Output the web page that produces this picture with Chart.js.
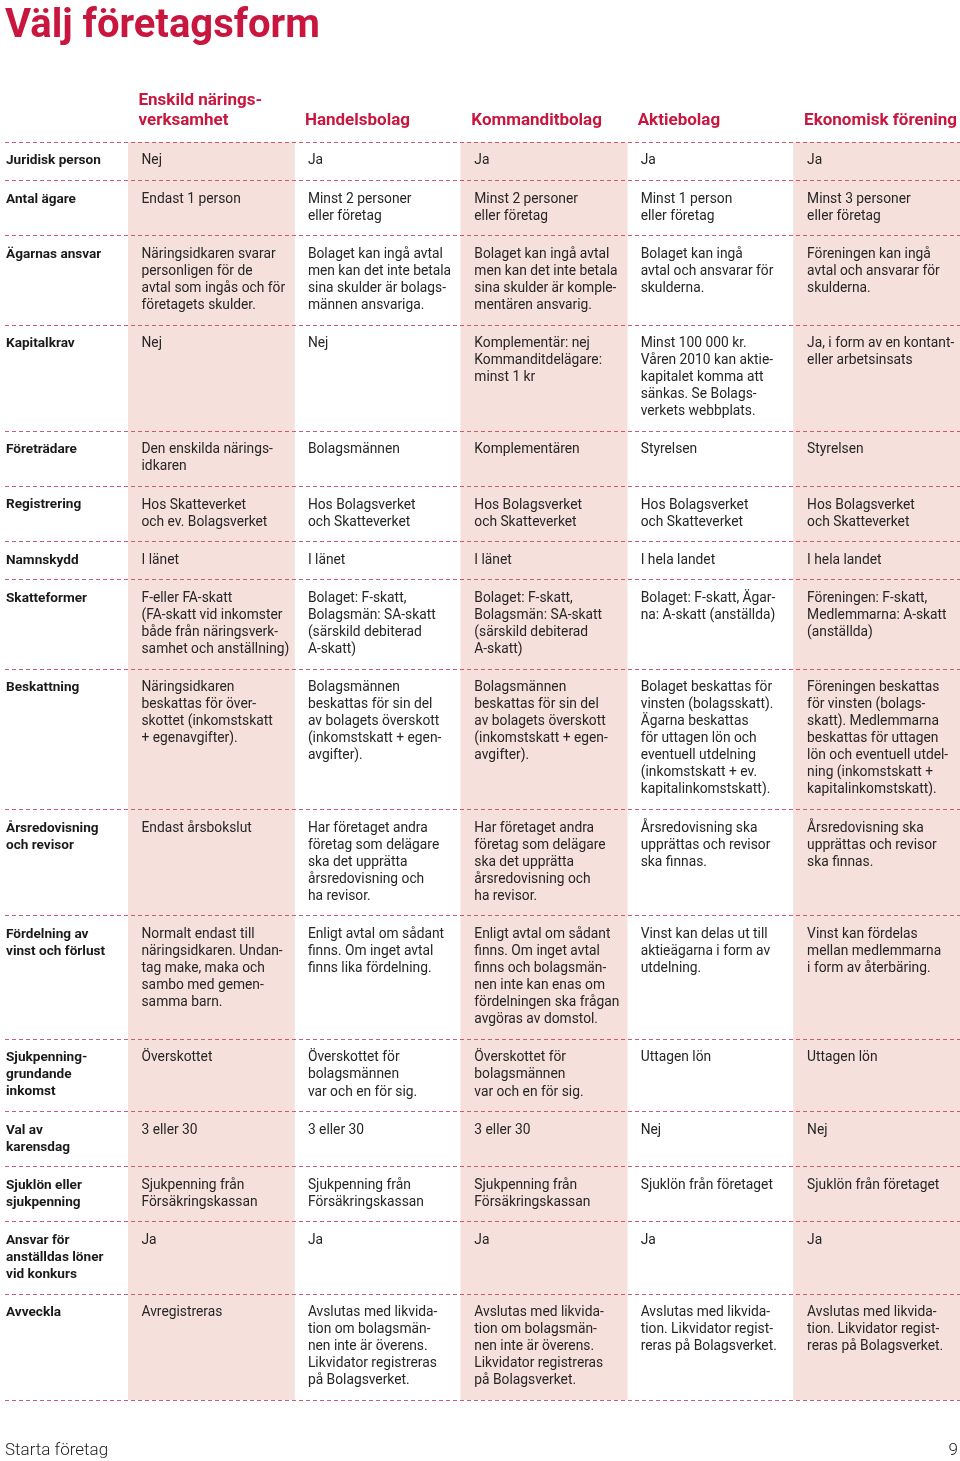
<!DOCTYPE html>
<html lang="sv">
<head>
<meta charset="utf-8">
<title>Välj företagsform</title>
<script src="https://cdn.jsdelivr.net/npm/chart.js@4.4.1/dist/chart.umd.min.js"></script>
<style>
  html, body { margin: 0; padding: 0; background: #fff; }
</style>
</head>
<body>
<canvas id="chartArea" width="960" height="1461"></canvas>
<script>
// kolumnrubriker (företagsformer)
const formNames = [
    ['Enskild närings-', 'verksamhet'],
    ['Handelsbolag'],
    ['Kommanditbolag'],
    ['Aktiebolag'],
    ['Ekonomisk förening']
];

// radrubriker
const criteria = [
    'Juridisk person',
    'Antal ägare',
    'Ägarnas ansvar',
    'Kapitalkrav',
    'Företrädare',
    'Registrering',
    'Namnskydd',
    'Skatteformer',
    'Beskattning',
    'Årsredovisning\noch revisor',
    'Fördelning av\nvinst och förlust',
    'Sjukpenning-\ngrundande\ninkomst',
    'Val av\nkarensdag',
    'Sjuklön eller\nsjukpenning',
    'Ansvar för\nanställdas löner\nvid konkurs',
    'Avveckla'
];

const enskild = [
    'Nej',
    'Endast 1 person',
    'Näringsidkaren svarar\npersonligen för de\navtal som ingås och för\nföretagets skulder.',
    'Nej',
    'Den enskilda närings-\nidkaren',
    'Hos Skatteverket\noch ev. Bolagsverket',
    'I länet',
    'F-eller FA-skatt\n(FA-skatt vid inkomster\nbåde från näringsverk-\nsamhet och anställning)',
    'Näringsidkaren\nbeskattas för över-\nskottet (inkomstskatt\n+ egenavgifter).',
    'Endast årsbokslut',
    'Normalt endast till\nnäringsidkaren. Undan-\ntag make, maka och\nsambo med gemen-\nsamma barn.',
    'Överskottet',
    '3 eller 30',
    'Sjukpenning från\nFörsäkringskassan',
    'Ja',
    'Avregistreras'
];

const handelsbolag = [
    'Ja',
    'Minst 2 personer\neller företag',
    'Bolaget kan ingå avtal\nmen kan det inte betala\nsina skulder är bolags-\nmännen ansvariga.',
    'Nej',
    'Bolagsmännen',
    'Hos Bolagsverket\noch Skatteverket',
    'I länet',
    'Bolaget: F-skatt,\nBolagsmän: SA-skatt\n(särskild debiterad\nA-skatt)',
    'Bolagsmännen\nbeskattas för sin del\nav bolagets överskott\n(inkomstskatt + egen-\navgifter).',
    'Har företaget andra\nföretag som delägare\nska det upprätta\nårsredovisning och\nha revisor.',
    'Enligt avtal om sådant\nfinns. Om inget avtal\nfinns lika fördelning.',
    'Överskottet för\nbolagsmännen\nvar och en för sig.',
    '3 eller 30',
    'Sjukpenning från\nFörsäkringskassan',
    'Ja',
    'Avslutas med likvida-\ntion om bolagsmän-\nnen inte är överens.\nLikvidator registreras\npå Bolagsverket.'
];

const kommanditbolag = [
    'Ja',
    'Minst 2 personer\neller företag',
    'Bolaget kan ingå avtal\nmen kan det inte betala\nsina skulder är komple-\nmentären ansvarig.',
    'Komplementär: nej\nKommanditdelägare:\nminst 1 kr',
    'Komplementären',
    'Hos Bolagsverket\noch Skatteverket',
    'I länet',
    'Bolaget: F-skatt,\nBolagsmän: SA-skatt\n(särskild debiterad\nA-skatt)',
    'Bolagsmännen\nbeskattas för sin del\nav bolagets överskott\n(inkomstskatt + egen-\navgifter).',
    'Har företaget andra\nföretag som delägare\nska det upprätta\nårsredovisning och\nha revisor.',
    'Enligt avtal om sådant\nfinns. Om inget avtal\nfinns och bolagsmän-\nnen inte kan enas om\nfördelningen ska frågan\navgöras av domstol.',
    'Överskottet för\nbolagsmännen\nvar och en för sig.',
    '3 eller 30',
    'Sjukpenning från\nFörsäkringskassan',
    'Ja',
    'Avslutas med likvida-\ntion om bolagsmän-\nnen inte är överens.\nLikvidator registreras\npå Bolagsverket.'
];

const aktiebolag = [
    'Ja',
    'Minst 1 person\neller företag',
    'Bolaget kan ingå\navtal och ansvarar för\nskulderna.',
    'Minst 100 000 kr.\nVåren 2010 kan aktie-\nkapitalet komma att\nsänkas. Se Bolags-\nverkets webbplats.',
    'Styrelsen',
    'Hos Bolagsverket\noch Skatteverket',
    'I hela landet',
    'Bolaget: F-skatt, Ägar-\nna: A-skatt (anställda)',
    'Bolaget beskattas för\nvinsten (bolagsskatt).\nÄgarna beskattas\nför uttagen lön och\neventuell utdelning\n(inkomstskatt + ev.\nkapitalinkomstskatt).',
    'Årsredovisning ska\nupprättas och revisor\nska finnas.',
    'Vinst kan delas ut till\naktieägarna i form av\nutdelning.',
    'Uttagen lön',
    'Nej',
    'Sjuklön från företaget',
    'Ja',
    'Avslutas med likvida-\ntion. Likvidator regist-\nreras på Bolagsverket.'
];

const ekonomisk = [
    'Ja',
    'Minst 3 personer\neller företag',
    'Föreningen kan ingå\navtal och ansvarar för\nskulderna.',
    'Ja, i form av en kontant-\neller arbetsinsats',
    'Styrelsen',
    'Hos Bolagsverket\noch Skatteverket',
    'I hela landet',
    'Föreningen: F-skatt,\nMedlemmarna: A-skatt\n(anställda)',
    'Föreningen beskattas\nför vinsten (bolags-\nskatt). Medlemmarna\nbeskattas för uttagen\nlön och eventuell utdel-\nning (inkomstskatt +\nkapitalinkomstskatt).',
    'Årsredovisning ska\nupprättas och revisor\nska finnas.',
    'Vinst kan fördelas\nmellan medlemmarna\ni form av återbäring.',
    'Uttagen lön',
    'Nej',
    'Sjuklön från företaget',
    'Ja',
    'Avslutas med likvida-\ntion. Likvidator regist-\nreras på Bolagsverket.'
];

const columns = [enskild, handelsbolag, kommanditbolag, aktiebolag, ekonomisk];

const RED = '#c8163e';
const PINK = '#f6e0dc';
const DASH = '#cd5a6f';
const TEXT = '#262626';
const FONT = 'Roboto, "Noto Sans", sans-serif';
const ROW_PAD = 1.23; // luft per rad, i radhöjder

// radernas start i "textrader", räknat från antal rader i cellerna
const rowLines = criteria.map((c, r) =>
    Math.max(c.split('\n').length, ...columns.map(col => col[r].split('\n').length)));
const rowStart = [];
let total = 0;
rowLines.forEach(n => { rowStart.push(total); total += n + ROW_PAD; });
const rowEdges = rowStart.concat([total]);

const tablePlugin = {
    id: 'tableText',
    afterDatasetsDraw(chart) {
        const ctx = chart.ctx;
        const area = chart.chartArea;
        const x = chart.scales.x, y = chart.scales.y;
        const colW = x.width / formNames.length;
        ctx.save();

        // streckade linjer mellan raderna
        ctx.strokeStyle = DASH;
        ctx.lineWidth = 1;
        ctx.setLineDash([4, 3]);
        rowEdges.forEach(v => {
            const py = Math.round(y.getPixelForValue(v)) + 0.5;
            ctx.beginPath();
            ctx.moveTo(5, py);
            ctx.lineTo(chart.width, py);
            ctx.stroke();
        });
        ctx.setLineDash([]);

        ctx.textAlign = 'left';
        ctx.textBaseline = 'middle';

        // kolumnrubriker
        ctx.fillStyle = RED;
        ctx.font = 'bold 17px ' + FONT;
        formNames.forEach((name, i) => {
            const left = x.getPixelForValue(i) - colW / 2 + 10.5;
            name.forEach((line, k) => {
                ctx.fillText(line, left, area.top - 21 - (name.length - 1 - k) * 20);
            });
        });

        const lineY = (r, k) => y.getPixelForValue(rowStart[r] + ROW_PAD / 2 + k + 0.5);

        // radrubriker
        ctx.fillStyle = '#1a1a1a';
        ctx.font = 'bold 13.6px ' + FONT;
        criteria.forEach((c, r) => {
            c.split('\n').forEach((line, k) => ctx.fillText(line, 6, lineY(r, k)));
        });

        // celler
        ctx.fillStyle = TEXT;
        ctx.font = '13.8px ' + FONT;
        columns.forEach((col, i) => {
            const left = x.getPixelForValue(i) - colW / 2 + 13.5;
            col.forEach((cell, r) => {
                cell.split('\n').forEach((line, k) => ctx.fillText(line, left, lineY(r, k)));
            });
        });

        // sidfot
        ctx.fillStyle = '#222';
        ctx.font = '300 17px ' + FONT;
        ctx.fillText('Starta företag', 5, chart.height - 10);
        ctx.textAlign = 'right';
        ctx.fillText('9', chart.width - 2, chart.height - 10);

        ctx.restore();
    }
};

const canvas = document.getElementById('chartArea');
const chartJs = new Chart(canvas, {
    type: 'bar',
    data: {
        labels: formNames.map(n => n.join(' ')),
        datasets: [{
            data: formNames.map(() => [0, total]),
            backgroundColor: c => c.dataIndex % 2 === 0 ? PINK : 'rgba(0,0,0,0)',
            borderWidth: 0,
            barPercentage: 1,
            categoryPercentage: 1
        }]
    },
    options: {
        responsive: false,
        devicePixelRatio: 1,
        animation: false,
        layout: { padding: { top: 0, bottom: 61, left: 5, right: 0 } },
        plugins: {
            legend: { display: false },
            tooltip: { enabled: false },
            title: {
                display: true,
                text: 'Välj företagsform',
                align: 'start',
                color: RED,
                font: { family: FONT, size: 40, weight: 'bold', lineHeight: 1.2 },
                padding: { top: 3, bottom: 142 - 3 - 40 * 1.2 }
            }
        },
        scales: {
            x: { display: false },
            y: {
                reverse: true,
                min: 0,
                max: total,
                grid: { display: false },
                border: { display: false },
                ticks: { display: false },
                afterFit: scale => { scale.width = 123; }
            }
        }
    },
    plugins: [tablePlugin]
});
</script>
</body>
</html>
